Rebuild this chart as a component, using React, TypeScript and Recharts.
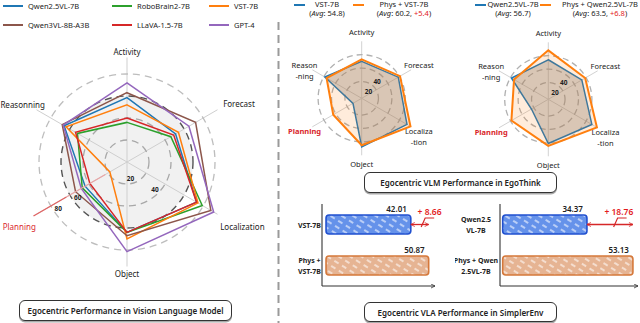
import React from 'react';
import {
  RadarChart, Radar, PolarGrid, PolarAngleAxis, PolarRadiusAxis,
  PieChart, Pie, BarChart, Bar, XAxis, YAxis, LabelList, ReferenceLine, Cell,
} from 'recharts';

const FONT = '"Noto Sans", "DejaVu Sans", sans-serif';
const INK = '#222';
const PLAN_RED = '#d9262c';

// ---------------- data ----------------
const axes = ['Activity', 'Forecast', 'Localization', 'Object', 'Planning', 'Reasonning'];
const qwen25vl = [58.5, 51, 73, 64, 44, 66];
const robobrain2 = [36, 46, 79, 64, 47, 52];
const vst7b = [52, 54, 74.5, 70, 18, 64];
const qwen3vl = [63, 72, 88, 67, 54, 68];
const llava15 = [40, 49, 73, 64, 39, 54];
const gpt4 = [72, 65, 91, 81.5, 48, 67];

const seriesKeys = ['qwen25vl', 'robobrain2', 'vst7b', 'qwen3vl', 'llava15', 'gpt4'];
const seriesNames = ['Qwen2.5VL-7B', 'RoboBrain2-7B', 'VST-7B', 'Qwen3VL-8B-A3B', 'LLaVA-1.5-7B', 'GPT-4'];
const seriesColors = ['#1f77b4', '#2ca02c', '#ff7f0e', '#8c564b', '#d62728', '#9467bd'];
const seriesValues = [qwen25vl, robobrain2, vst7b, qwen3vl, llava15, gpt4];

const mainRings = [20, 40, 60, 80];

// EgoThink small radars
const smallAxes = ['Activity', 'Forecast', 'Localiza\n-tion', 'Object', 'Planning', 'Reason\n-ning'];
const egoVst = [50, 58, 73, 67.5, 10, 58.5];
const egoPhysVst = [53, 61, 79, 65, 44, 55.5];
const egoQwen = [54, 52.7, 70, 61, 24, 58.5];
const egoPhysQwen = [68, 58.5, 78.7, 64.5, 58.5, 54];
const smallRings = [20, 40, 60];
const smallTickLabels = [20, 40];

const ego1Names = ['VST-7B', 'Phys + VST-7B'];
const ego1Avg = [54.8, 60.2];
const ego1Gain = 5.4;
const ego2Names = ['Qwen2.5VL-7B', 'Phys + Qwen2.5VL-7B'];
const ego2Avg = [56.7, 63.5];
const ego2Gain = 6.8;

// SimplerEnv bars
const sim1Labels = ['VST-7B', 'Phys +\nVST-7B'];
const sim1Values = [42.01, 50.87];
const sim1Gain = 8.66;
const sim2Labels = ['Qwen2.5\nVL-7B', 'Phys + Qwen\n2.5VL-7B'];
const sim2Values = [34.37, 53.13];
const sim2Gain = 18.76;

const mainData = axes.map((a, i) => {
  const row: any = { axis: a };
  seriesKeys.forEach((k, j) => { row[k] = seriesValues[j][i]; });
  return row;
});
const ego1Data = smallAxes.map((a, i) => ({ axis: a, base: egoVst[i], phys: egoPhysVst[i] }));
const ego2Data = smallAxes.map((a, i) => ({ axis: a, base: egoQwen[i], phys: egoPhysQwen[i] }));
const sim1Data = sim1Labels.map((n, i) => ({ name: n, value: sim1Values[i] }));
const sim2Data = sim2Labels.map((n, i) => ({ name: n, value: sim2Values[i] }));

// ---------------- main radar ----------------
const M_W = 280, M_H = 300, CX = 127, CY = 162, OUTER = 104.5, RMAX = 95;
const mRad = (v: number) => (OUTER * v) / RMAX;
const mainLabelNudge: number[][] = [[0, 0], [0, -3], [-3, 9], [0, 0], [5, 9], [14, -2]];
const radLabelAngle: Record<number, number> = { 20: -78, 40: -44, 60: 216, 80: 214 };

function MainAngleTick(props: any) {
  const { x, y, payload } = props;
  const idx = axes.indexOf(payload.value);
  const ang = Math.atan2(y - CY, x - CX);
  const R = 111;
  const c = Math.cos(ang);
  const anchor = Math.abs(c) < 0.01 ? 'middle' : c > 0 ? 'start' : 'end';
  const [nx, ny] = mainLabelNudge[idx] || [0, 0];
  const tx = CX + R * c + nx;
  const ty = CY + R * Math.sin(ang) + ny;
  const isPlan = payload.value === 'Planning';
  return (
    <g>
      {isPlan && (
        <g>
          <line x1={CX + 108 * c} y1={CY + 108 * Math.sin(ang)} x2={CX + 70 * c} y2={CY + 70 * Math.sin(ang)}
            stroke="#e06464" strokeWidth={1.4} />
          <line x1={CX + 70 * c} y1={CY + 70 * Math.sin(ang)} x2={CX + 25 * c} y2={CY + 25 * Math.sin(ang)}
            stroke="#e9a5a5" strokeWidth={1.2} />
        </g>
      )}
      <text x={tx} y={ty} textAnchor={anchor} dominantBaseline="central" fontSize={8}
        fontFamily={FONT} fill={isPlan ? PLAN_RED : INK}>{payload.value}</text>
    </g>
  );
}

function MainRadiusTick(props: any) {
  const { x, y, payload } = props;
  const r = Math.hypot(x - CX, y - CY) - 5;
  const a = ((radLabelAngle[payload.value] ?? -45) * Math.PI) / 180;
  return (
    <text x={CX + r * Math.cos(a)} y={CY - r * Math.sin(a)} textAnchor="middle" dominantBaseline="central"
      fontSize={6.5} fontWeight={700} fontFamily={FONT} fill={INK}>{payload.value}</text>
  );
}

function MainRadar() {
  return (
    <div style={{ position: 'absolute', left: 0, top: 0, width: M_W, height: M_H }}>
      <div style={{ position: 'absolute', left: 0, top: 0 }}>
        <PieChart width={M_W} height={M_H} margin={{ top: 0, right: 0, bottom: 0, left: 0 }}>
          <Pie data={[{ v: 1 }]} dataKey="v" cx={CX} cy={CY} innerRadius={0} outerRadius={mRad(60)}
            fill="#f1f1f1" stroke="none" isAnimationActive={false} startAngle={0} endAngle={360} />
        </PieChart>
      </div>
      <div style={{ position: 'absolute', left: 0, top: 0 }}>
        <RadarChart width={M_W} height={M_H} cx={CX} cy={CY} outerRadius={OUTER} data={mainData}
          margin={{ top: 0, right: 0, bottom: 0, left: 0 }}>
          <PolarGrid gridType="circle" radialLines={true} polarRadius={[]} stroke="#cfcfcf" strokeWidth={1} />
          <PolarGrid gridType="circle" radialLines={false} polarRadius={[mRad(20), mRad(40)]}
            stroke="#a8a8a8" strokeWidth={1.3} strokeDasharray="7 5" />
          <PolarGrid gridType="circle" radialLines={false} polarRadius={[mRad(80)]}
            stroke="#bdbdbd" strokeWidth={1.3} strokeDasharray="7 5" />
          <PolarGrid gridType="circle" radialLines={false} polarRadius={[mRad(60)]}
            stroke="#555" strokeWidth={1.4} strokeDasharray="7 5" />
          <PolarAngleAxis dataKey="axis" axisLine={false} tickLine={false} tick={<MainAngleTick />} />
          <PolarRadiusAxis angle={0} domain={[0, RMAX]} allowDataOverflow ticks={mainRings}
            axisLine={false} tickLine={false} tick={<MainRadiusTick />} />
          {seriesKeys.map((k, i) => (
            <Radar key={k} name={seriesNames[i]} dataKey={k} stroke={seriesColors[i]} strokeWidth={1.5}
              fill="none" fillOpacity={0} dot={false} isAnimationActive={false} />
          ))}
        </RadarChart>
      </div>
    </div>
  );
}

function MainLegend() {
  const cols = [3, 112, 209];
  const rows = [6, 25];
  return (
    <>
      {seriesNames.map((n, i) => {
        const col = i % 3, row = Math.floor(i / 3);
        return (
          <div key={n} style={{ position: 'absolute', left: cols[col], top: rows[row] - 6, height: 12,
            display: 'flex', alignItems: 'center', whiteSpace: 'nowrap' }}>
            <div style={{ width: 20, height: 2, background: seriesColors[i], marginRight: 5 }} />
            <span style={{ fontSize: 7.5, color: INK, fontFamily: FONT }}>{n}</span>
          </div>
        );
      })}
    </>
  );
}

// ---------------- small radars ----------------
const S_W = 180, S_H = 150, S_OUT = 57, S_MIN = -5, S_MAX = 80;
const sRad = (v: number) => (S_OUT * (v - S_MIN)) / (S_MAX - S_MIN);

function makeSmallAngleTick(cx: number, cy: number) {
  return function SmallAngleTick(props: any) {
    const { x, y, payload } = props;
    const ang = Math.atan2(y - cy, x - cx);
    const R = 66;
    const tx = cx + R * Math.cos(ang);
    const ty = cy + R * Math.sin(ang);
    const lines = String(payload.value).split('\n');
    const isPlan = payload.value === 'Planning';
    return (
      <text x={tx} y={ty} textAnchor="middle" dominantBaseline="central" fontSize={7.5} fontFamily={FONT}
        fontWeight={isPlan ? 700 : 400} fill={isPlan ? PLAN_RED : INK}>
        {lines.map((l, i) => (
          <tspan key={i} x={tx} dy={i === 0 ? 0 : 10.5}>{l}</tspan>
        ))}
      </text>
    );
  };
}

function SmallRadiusTick(props: any) {
  const { x, y, payload } = props;
  return (
    <text x={x - 4} y={y + 6} textAnchor="middle" dominantBaseline="central" fontSize={6.5}
      fontWeight={700} fontFamily={FONT} fill={INK}>{payload.value}</text>
  );
}

function SmallRadar({ left, top, cx, cy, data }: any) {
  const Tick = makeSmallAngleTick(cx, cy);
  return (
    <div style={{ position: 'absolute', left, top }}>
      <RadarChart width={S_W} height={S_H} cx={cx} cy={cy} outerRadius={S_OUT} data={data}
        margin={{ top: 0, right: 0, bottom: 0, left: 0 }}>
        <PolarGrid gridType="circle" radialLines={true} polarRadius={[]} stroke="#d2d2d2" strokeWidth={1} />
        <PolarGrid gridType="circle" radialLines={false} polarRadius={smallRings.map(sRad)}
          stroke="#b0b0b0" strokeWidth={1.3} strokeDasharray="6 4" />
        <PolarAngleAxis dataKey="axis" axisLine={false} tickLine={false} tick={<Tick />} />
        <PolarRadiusAxis angle={50} domain={[S_MIN, S_MAX]} allowDataOverflow ticks={smallTickLabels}
          axisLine={false} tickLine={false} tick={<SmallRadiusTick />} />
        <Radar dataKey="base" stroke="#1f77b4" strokeWidth={1.5} fill="#808080" fillOpacity={0.35}
          dot={false} isAnimationActive={false} />
        <Radar dataKey="phys" stroke="#ff7f0e" strokeWidth={2} fill="#ff7f0e" fillOpacity={0.15}
          dot={false} isAnimationActive={false} />
      </RadarChart>
    </div>
  );
}

function EgoLegend({ names, avg, gain, x0 }: any) {
  const item = (i: number, lineX: number, textCX: number) => (
    <React.Fragment key={i}>
      <div style={{ position: 'absolute', left: lineX, top: 4, width: 11, height: 2,
        background: i === 0 ? '#1f77b4' : '#ff7f0e' }} />
      <div style={{ position: 'absolute', left: textCX - 50, top: 0, width: 100, textAlign: 'center',
        fontSize: 7.5, lineHeight: '9px', color: INK, fontFamily: FONT, whiteSpace: 'nowrap' }}>
        <div>{names[i]}</div>
        <div>
          (<i>Avg</i>: {avg[i].toFixed(1)}{i === 1 && (<>, <span style={{ color: '#e31a1c' }}>+{gain.toFixed(1)}</span></>)})
        </div>
      </div>
    </React.Fragment>
  );
  return (
    <>
      {item(0, x0.l0, x0.t0)}
      {item(1, x0.l1, x0.t1)}
    </>
  );
}

// ---------------- bars ----------------
function Defs() {
  return (
    <defs>
      <pattern id="hatchBlue" patternUnits="userSpaceOnUse" width="9" height="6" patternTransform="rotate(32)">
        <rect width="9" height="6" fill="#6592ea" />
        <line x1="0" y1="3" x2="9" y2="3" stroke="#ffffff" strokeWidth="1.3" strokeDasharray="5 4" opacity="0.85" />
      </pattern>
      <pattern id="hatchOrange" patternUnits="userSpaceOnUse" width="9" height="6" patternTransform="rotate(32)">
        <rect width="9" height="6" fill="#e6b493" />
        <line x1="0" y1="3" x2="9" y2="3" stroke="#ffffff" strokeWidth="1.3" strokeDasharray="5 4" opacity="0.85" />
      </pattern>
      <marker id="redArrow" viewBox="0 0 10 10" refX="9" refY="5" markerWidth="5" markerHeight="5"
        orient="auto-start-reverse" markerUnits="userSpaceOnUse">
        <path d="M1,1 L9,5 L1,9" fill="none" stroke="#d62728" strokeWidth="1.6" />
      </marker>
      <marker id="axisArrow" viewBox="0 0 10 10" refX="9" refY="5" markerWidth="5" markerHeight="5"
        orient="auto" markerUnits="userSpaceOnUse">
        <path d="M1,1 L9,5 L1,9" fill="none" stroke="#333" strokeWidth="1.6" />
      </marker>
    </defs>
  );
}

function makeYTick(centerX: number) {
  return function YTick(props: any) {
    const { y, payload } = props;
    const lines = String(payload.value).split('\n');
    const start = y - ((lines.length - 1) * 11) / 2;
    return (
      <text textAnchor="middle" dominantBaseline="central" fontSize={7} fontWeight={700}
        fontFamily={FONT} fill={INK}>
        {lines.map((l, i) => (
          <tspan key={i} x={centerX} y={start + i * 11}>{l}</tspan>
        ))}
      </text>
    );
  };
}

function ValueLabel(props: any) {
  const { x, y, width, value } = props;
  return (
    <text x={x + width - 4} y={y - 3} textAnchor="end" fontSize={8} fontWeight={600}
      fontFamily={FONT} fill={INK}>{Number(value).toFixed(2)}</text>
  );
}

function makeGainLabel(text: string) {
  return function GainLabel(props: any) {
    const vb = props.viewBox || {};
    const x1 = vb.x ?? 0, y1 = vb.y ?? 0, w = vb.width ?? 0;
    const sx = x1 + 0.58 * w;
    return (
      <g>
        <polyline points={`${sx},${y1 + 2.5} ${sx + 4},${y1 - 6.5} ${sx + 13},${y1 - 6.5}`}
          fill="none" stroke="#d62728" strokeWidth={1.2} />
        <text x={x1 + 0.38 * w} y={y1 - 13} textAnchor="start" dominantBaseline="central" fontSize={8.5}
          fontWeight={600} fontFamily={FONT} fill="#e31a1c">{text}</text>
      </g>
    );
  };
}

function SimBars({ left, width, yAxisW, marginRight, domain, data, labelCX, gain }: any) {
  const YT = makeYTick(labelCX);
  const GL = makeGainLabel(`+ ${gain.toFixed(2)}`);
  return (
    <div style={{ position: 'absolute', left, top: 195 }}>
      <BarChart width={width} height={95} data={data} layout="vertical"
        margin={{ top: 9, right: marginRight, bottom: 2, left: 0 }}>
        <Defs />
        <XAxis type="number" domain={domain} allowDataOverflow tick={false} tickLine={false} height={2}
          axisLine={{ stroke: '#333', strokeWidth: 1.1, markerEnd: 'url(#axisArrow)' }} />
        <YAxis type="category" dataKey="name" width={yAxisW} tickLine={false}
          axisLine={{ stroke: '#333', strokeWidth: 1.1 }} tick={<YT />} />
        <Bar dataKey="value" barSize={19} radius={3} isAnimationActive={false} strokeWidth={1.6}>
          {data.map((d: any, i: number) => (
            <Cell key={i} fill={i === 0 ? 'url(#hatchBlue)' : 'url(#hatchOrange)'}
              stroke={i === 0 ? '#2150cf' : '#d5783a'} />
          ))}
          <LabelList dataKey="value" content={<ValueLabel />} />
        </Bar>
        <ReferenceLine segment={[{ x: data[0].value, y: data[0].name }, { x: data[1].value, y: data[0].name }]}
          stroke="#d62728" strokeWidth={1.3} markerStart="url(#redArrow)" markerEnd="url(#redArrow)"
          label={<GL />} />
      </BarChart>
    </div>
  );
}

function TitleBox({ left, top, width, height, text }: any) {
  return (
    <div style={{ position: 'absolute', left, top, width, height, boxSizing: 'border-box',
      border: '1.3px solid #333', borderRadius: 6, background: '#fff', boxShadow: '0 1.5px 0 #aaa',
      display: 'flex', alignItems: 'center', justifyContent: 'center',
      fontSize: 8, fontWeight: 600, color: INK, fontFamily: FONT, whiteSpace: 'nowrap' }}>
      {text}
    </div>
  );
}

export default function App() {
  return (
    <div style={{ position: 'absolute', left: 0, top: 0, width: 640, height: 323, background: '#fff',
      overflow: 'hidden', fontFamily: FONT }}>
      <MainRadar />
      <MainLegend />
      <svg style={{ position: 'absolute', left: 0, top: 0 }} width={640} height={323}>
        <line x1={278.5} y1={22} x2={278.5} y2={323} stroke="#9a9a9a" strokeWidth={2} strokeDasharray="8 5" />
      </svg>
      <TitleBox left={19} top={300} width={213} height={21} text="Egocentric Performance in Vision Language Model" />

      <EgoLegend names={ego1Names} avg={ego1Avg} gain={ego1Gain} x0={{ l0: 294, t0: 327, l1: 353, t1: 404 }} />
      <EgoLegend names={ego2Names} avg={ego2Avg} gain={ego2Gain} x0={{ l0: 475, t0: 513, l1: 540, t1: 600 }} />
      <SmallRadar left={282} top={20} cx={79.7} cy={78.3} data={ego1Data} />
      <SmallRadar left={460} top={20} cx={88.3} cy={79.3} data={ego2Data} />
      <TitleBox left={364} top={172} width={193} height={21} text="Egocentric VLM Performance in EgoThink" />

      <SimBars left={280} width={175} yAxisW={42} marginRight={20} domain={[-2, 54]} data={sim1Data}
        labelCX={29.5} gain={sim1Gain} />
      <SimBars left={455} width={185} yAxisW={45} marginRight={2} domain={[-1.1, 55.2]} data={sim2Data}
        labelCX={21} gain={sim2Gain} />
      <TitleBox left={364} top={302} width={193} height={20} text="Egocentric VLA Performance in SimplerEnv" />
    </div>
  );
}
